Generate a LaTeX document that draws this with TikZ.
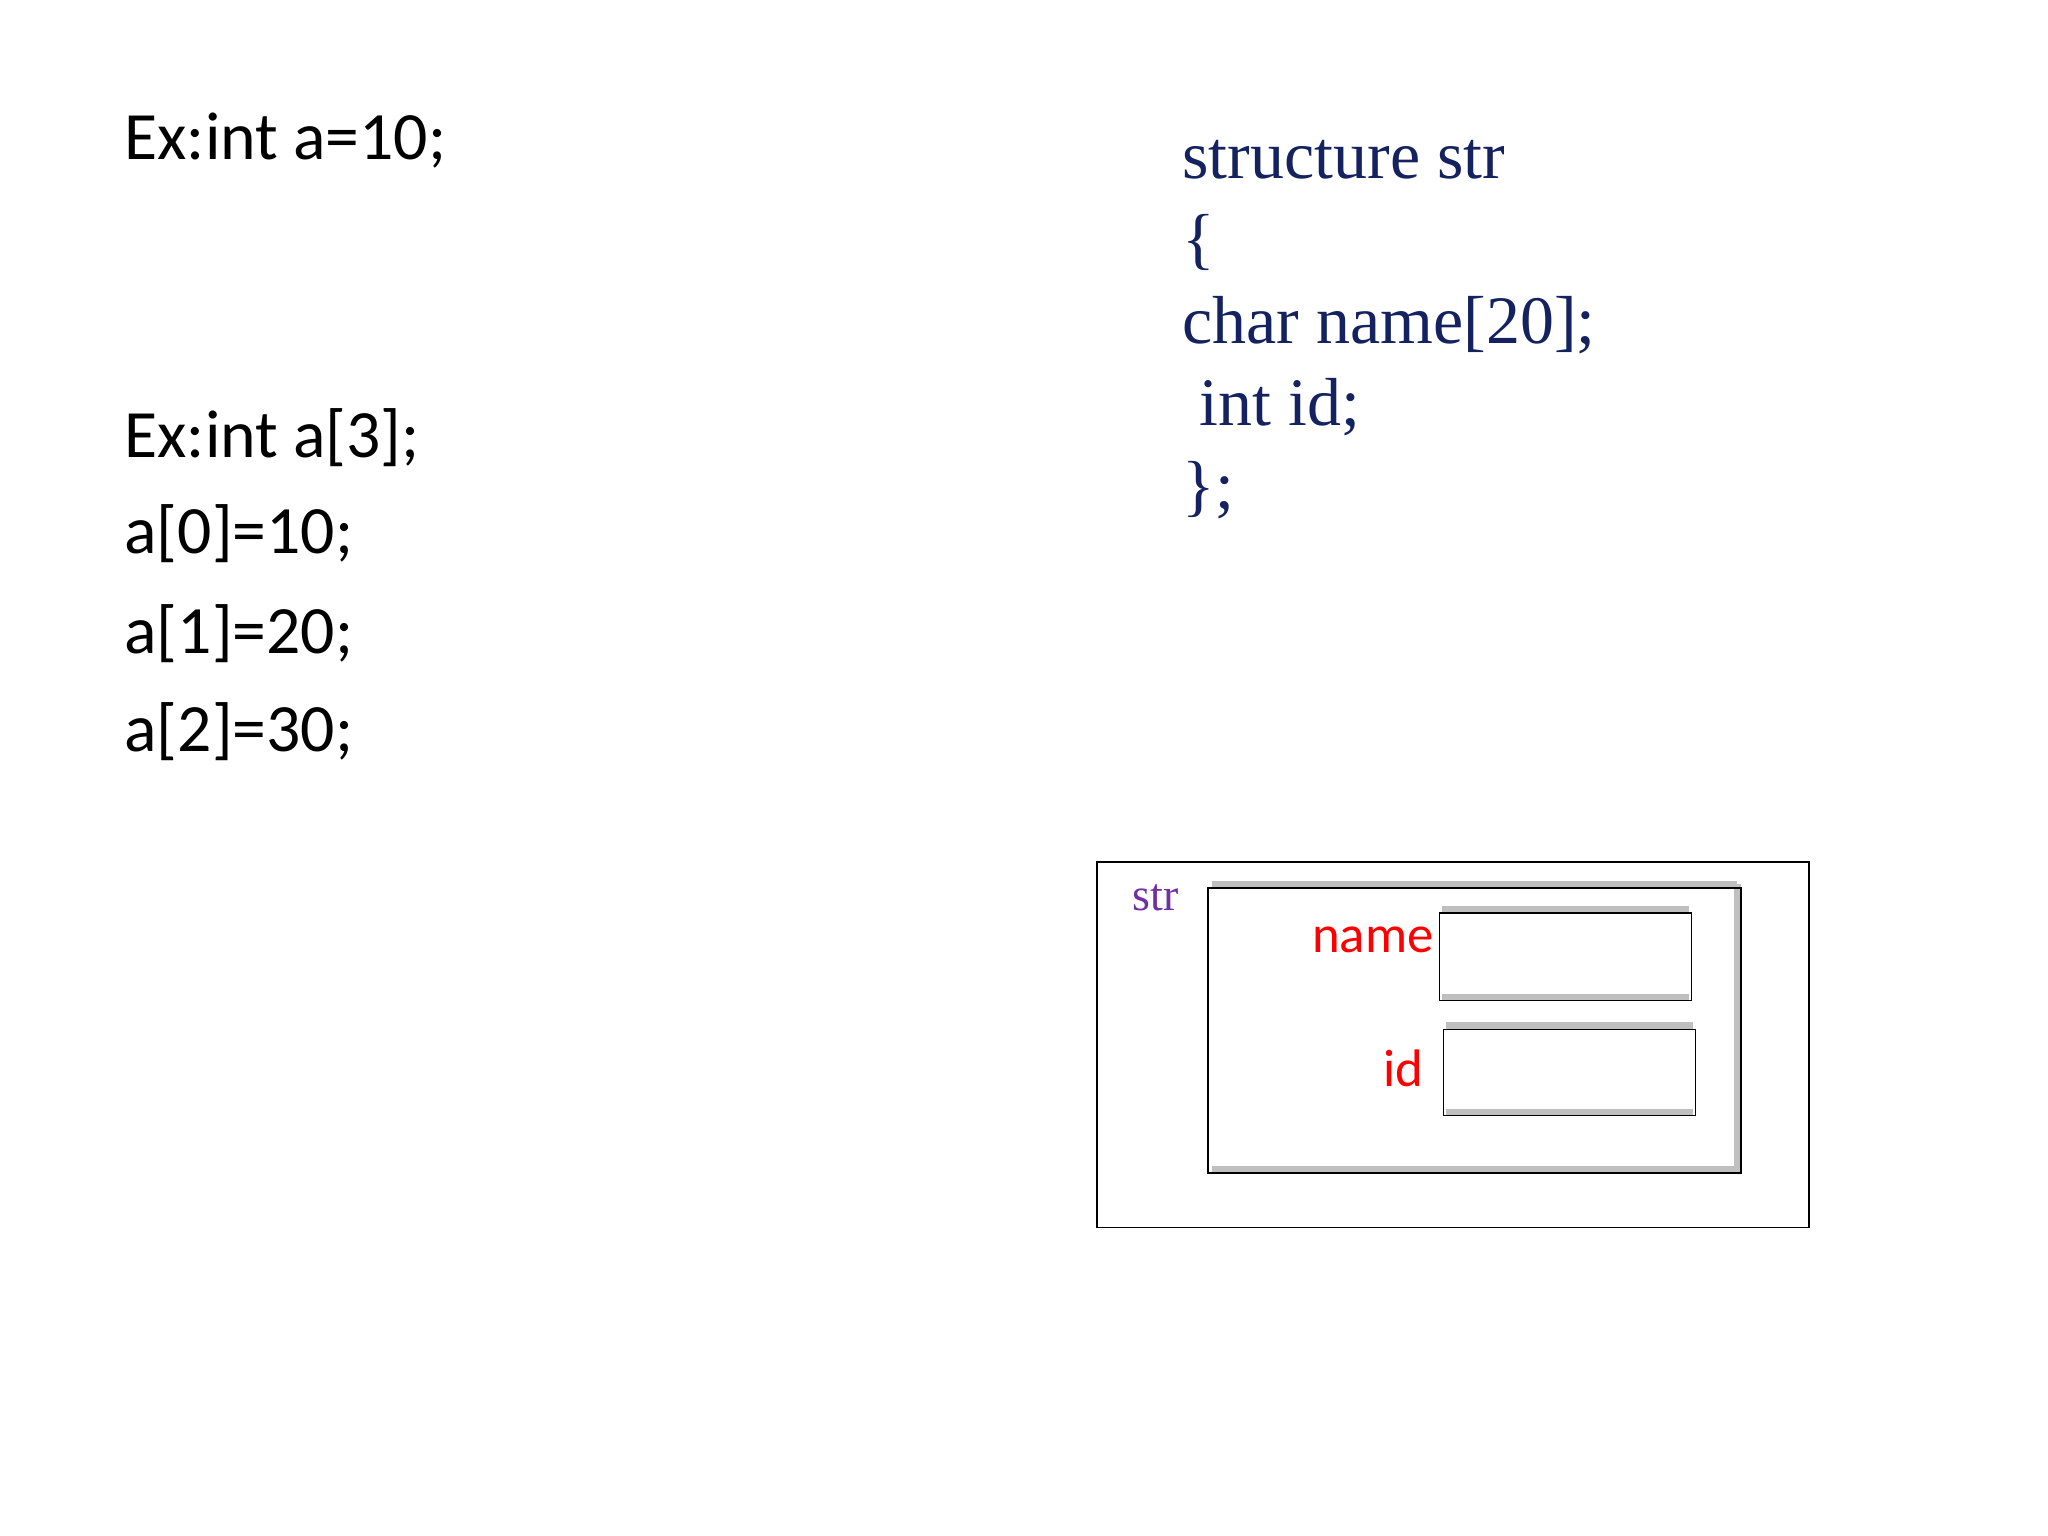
\documentclass[tikz,border=0pt]{standalone}
\usepackage{fontspec}
\setmainfont{Carlito}
\newfontfamily\serif{Liberation Serif}
\definecolor{navy}{RGB}{20,35,95}
\definecolor{pur}{RGB}{112,48,160}
\begin{document}
\begin{tikzpicture}[x=0.02cm,y=-0.02cm,
  code/.style={anchor=base west,inner sep=0,font=\fontsize{29.5}{34}\selectfont},
  scode/.style={anchor=base west,inner sep=0,text=navy,font=\serif\fontsize{29.6}{34}\selectfont},
  lbl/.style={anchor=base east,inner sep=0,text=red,font=\fontsize{23}{27}\selectfont},
  bx/.style={draw=black,line width=0.6pt},
  sh/.style={draw=black!25,line width=3pt}]
\useasboundingbox (0,0) rectangle (1568,1176);
\node[code] (l1) at (95,122) {Ex:int a=10;};
\node[code] (l2) at (95,350) {Ex:int a[3];};
\node[code] (l3) at (95,424) {a[0]=10;};
\node[code] (l4) at (95,500) {a[1]=20;};
\node[code] (l5) at (95,575) {a[2]=30;};
\node[scode] (s1) at (905,137) {structure str};
\node[scode] (s2) at (905,200) {\{};
\node[scode] (s3) at (905,263) {char name[20];};
\node[scode] (s4) at (918,326) {int id;};
\node[scode] (s5) at (905,389) {\};};
\draw[bx] (840,660) rectangle (1385,940);
\draw[sh] (928,677) -- (1330,677) (1330,677) -- (1330,895) -- (928,895);
\draw[bx] (925,680) rectangle (1333,898);
\draw[sh] (1104,696) -- (1293,696) (1104,764) -- (1293,764);
\draw[bx] (1102,699) rectangle (1295,766);
\draw[sh] (1107,785) -- (1296,785) (1107,852) -- (1296,852);
\draw[bx] (1105,788) rectangle (1298,854);
\node[anchor=base west,inner sep=0,text=pur,font=\serif\fontsize{20}{24}\selectfont] (str) at (867,697) {str};
\node[lbl] (nm) at (1098,729) {name};
\node[lbl] (id) at (1090,832) {id};
\end{tikzpicture}
\end{document}
